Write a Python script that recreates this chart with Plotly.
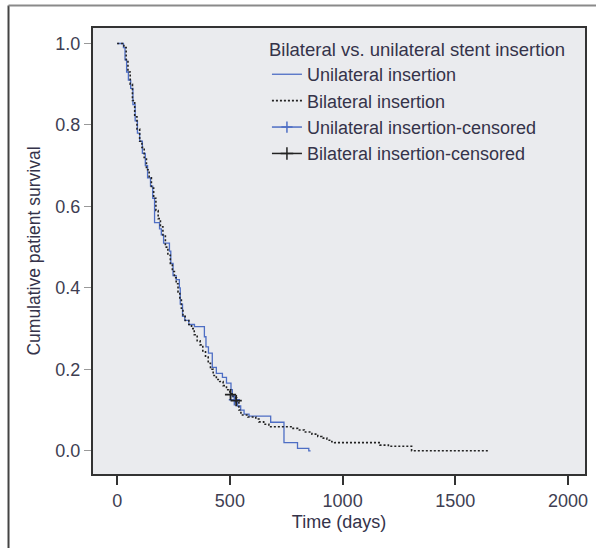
import plotly.graph_objects as go

# Unilateral insertion (Kaplan-Meier steps)
uni_t = [0, 28, 35, 42, 50, 60, 70, 80, 90, 100, 112, 125, 135, 148, 158, 166, 188, 196, 206, 232,
         238, 248, 262, 276, 280, 290, 300, 318, 343, 387, 394, 405, 422, 440, 467, 485, 505, 511,
         525, 534, 548, 563, 585, 681, 740, 800, 850, 858]
uni_s = [1.0, 0.99, 0.96, 0.93, 0.91, 0.89, 0.85, 0.81, 0.78, 0.76, 0.73, 0.70, 0.67, 0.65, 0.62, 0.56,
         0.545, 0.53, 0.51, 0.49, 0.46, 0.43, 0.42, 0.40, 0.36, 0.33, 0.32, 0.31, 0.305, 0.28, 0.255,
         0.24, 0.205, 0.19, 0.18, 0.166, 0.15, 0.133, 0.12, 0.11, 0.10, 0.09, 0.085, 0.07, 0.02, 0.006,
         0.0, 0.0]

# Bilateral insertion
bil_t = [0, 30, 40, 48, 58, 68, 78, 88, 100, 110, 120, 130, 142, 152, 162, 172, 182, 192, 203, 214,
         225, 236, 245, 254, 262, 270, 278, 285, 292, 302, 318, 330, 342, 355, 368, 380, 392, 404,
         414, 426, 440, 455, 470, 485, 500, 515, 530, 540, 549, 580, 615, 629, 650, 673, 775, 800,
         830, 864, 890, 908, 930, 952, 965, 1166, 1203, 1306, 1644]
bil_s = [1.0, 0.99, 0.96, 0.93, 0.90, 0.86, 0.82, 0.79, 0.76, 0.745, 0.72, 0.69, 0.67, 0.645, 0.62,
         0.59, 0.57, 0.55, 0.53, 0.50, 0.48, 0.46, 0.44, 0.425, 0.41, 0.39, 0.37, 0.35, 0.33, 0.32,
         0.31, 0.30, 0.285, 0.27, 0.26, 0.245, 0.23, 0.215, 0.20, 0.185, 0.175, 0.17, 0.16, 0.15,
         0.14, 0.13, 0.12, 0.10, 0.088, 0.083, 0.078, 0.071, 0.065, 0.059, 0.055, 0.051, 0.046,
         0.041, 0.035, 0.031, 0.026, 0.022, 0.02, 0.014, 0.011, 0.0, 0.0]

# Censored observations
uni_cens_t = [520]
uni_cens_s = [0.125]
bil_cens_t = [503, 528]
bil_cens_s = [0.138, 0.123]

x_ticks = [0, 500, 1000, 1500, 2000]
y_ticks = [0.0, 0.2, 0.4, 0.6, 0.8, 1.0]

FONT = "Liberation Sans, Arial, sans-serif"
TXT = "#35334a"
TICK = "#3e3e52"
BLUE = "#4e6ec4"
BLACK = "#222222"

fig = go.Figure()
fig.add_trace(go.Scatter(x=uni_t, y=uni_s, mode="lines", line_shape="hv",
                         line=dict(color=BLUE, width=1.3), name="Unilateral insertion"))
fig.add_trace(go.Scatter(x=bil_t, y=bil_s, mode="lines", line_shape="hv",
                         line=dict(color=BLACK, width=1.6, dash="2px,2px"), name="Bilateral insertion"))
fig.add_trace(go.Scatter(x=uni_cens_t, y=uni_cens_s, mode="lines+markers",
                         line=dict(color=BLUE, width=1.5),
                         marker=dict(symbol="cross-thin", size=8, line=dict(color=BLUE, width=1.5)),
                         name="Unilateral insertion-censored"))
fig.add_trace(go.Scatter(x=bil_cens_t, y=bil_cens_s, mode="lines+markers",
                         line=dict(color=BLACK, width=0),
                         marker=dict(symbol="cross-thin", size=8, line=dict(color=BLACK, width=1.8)),
                         name="Bilateral insertion-censored", showlegend=False))
# legend-only entry for the black censored symbol with a line
fig.add_trace(go.Scatter(x=[None], y=[None], mode="lines+markers",
                         line=dict(color=BLACK, width=1.5),
                         marker=dict(symbol="cross-thin", size=9, line=dict(color=BLACK, width=1.5)),
                         name="Bilateral insertion-censored"))

def px_x(p):
    return (p - 93) / 495.0

def px_y(p):
    return (474 - p) / 446.0

fig.add_shape(type="line", xref="paper", yref="paper", x0=px_x(8), x1=px_x(8),
              y0=px_y(560), y1=px_y(5.5), line=dict(color="#444444", width=2))
fig.add_shape(type="line", xref="paper", yref="paper", x0=px_x(8), x1=px_x(600),
              y0=px_y(5.5), y1=px_y(5.5), line=dict(color="#8a8a8a", width=2))

fig.update_layout(
    width=596, height=548,
    margin=dict(l=93, r=8, t=28, b=74),
    paper_bgcolor="white", plot_bgcolor="#eaebee",
    font=dict(family=FONT, size=18, color=TXT),
    showlegend=True,
    legend=dict(x=px_x(268), y=px_y(32), xanchor="left", yanchor="top",
                bgcolor="rgba(0,0,0,0)", font=dict(size=18, color=TXT),
                title=dict(text="Bilateral vs. unilateral stent insertion", font=dict(size=18.5, color=TXT)),
                itemwidth=30, tracegroupgap=0),
    xaxis=dict(range=[-107, 2075], tickmode="array", tickvals=x_ticks,
               ticktext=[str(v) for v in x_ticks], showgrid=False, zeroline=False,
               ticks="outside", ticklen=9, tickwidth=2, tickcolor="#333333",
               showline=True, linecolor="#333333", linewidth=2, mirror=True,
               tickfont=dict(size=18, color=TICK),
               title=dict(text="Time (days)", font=dict(size=18, color=TXT), standoff=6)),
    yaxis=dict(range=[-0.057, 1.038], tickmode="array", tickvals=y_ticks,
               ticktext=["%.1f" % v for v in y_ticks], showgrid=False, zeroline=False,
               ticks="outside", ticklen=7, tickwidth=1, tickcolor="#999999",
               showline=True, linecolor="#333333", linewidth=2, mirror=True,
               tickfont=dict(size=18, color=TICK),
               title=dict(text="Cumulative patient survival", font=dict(size=17.5, color=TXT), standoff=10)),
)

fig.write_html("out.html")
